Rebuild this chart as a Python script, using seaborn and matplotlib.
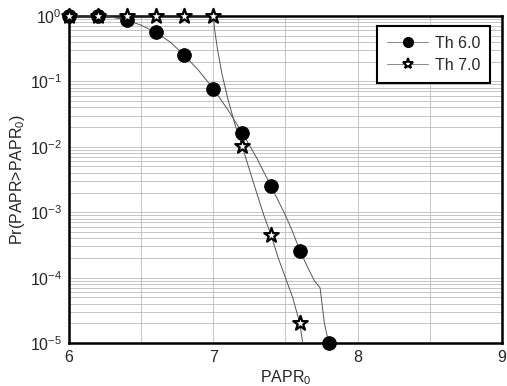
import numpy as np
import pandas as pd
import matplotlib
matplotlib.use("Agg")
import matplotlib.pyplot as plt
import seaborn as sns
from matplotlib.lines import Line2D
from matplotlib.ticker import LogLocator, MultipleLocator, NullFormatter

# marker data
th6_x = [6.0, 6.2, 6.4, 6.6, 6.8, 7.0, 7.2, 7.4, 7.6, 7.8]
th6_y = [1.0, 1.0, 0.85, 0.56, 0.25, 0.077, 0.0165, 0.0025, 0.00026, 1e-5]
th7_x = [6.0, 6.2, 6.4, 6.6, 6.8, 7.0, 7.2, 7.4, 7.6]
th7_y = [1.0, 1.0, 1.0, 1.0, 1.0, 1.0, 0.0102, 0.00045, 2.0e-5]

# curve data (denser)
th6_cx = [6.0, 6.2, 6.3, 6.4, 6.5, 6.6, 6.7, 6.8, 6.9, 7.0, 7.1, 7.2, 7.3, 7.4, 7.5, 7.55, 7.6, 7.65, 7.7, 7.74, 7.77, 7.8]
th6_cy = [1.0, 1.0, 0.95, 0.86, 0.72, 0.56, 0.40, 0.25, 0.145, 0.077, 0.037, 0.0165, 0.0068, 0.0025, 0.0009, 0.0005, 0.00026, 0.00015, 0.00009, 0.00007, 0.00002, 1e-5]
th7_cx = [6.0, 6.2, 6.4, 6.6, 6.8, 7.0, 7.01, 7.03, 7.06, 7.1, 7.15, 7.2, 7.25, 7.3, 7.35, 7.4, 7.45, 7.5, 7.55, 7.6, 7.62]
th7_cy = [1.0, 1.0, 1.0, 1.0, 1.0, 1.0, 0.6, 0.3, 0.13, 0.055, 0.022, 0.0102, 0.0045, 0.002, 0.0009, 0.00045, 0.0002, 0.0001, 0.00005, 2.0e-5, 1e-5]

sns.set_style("white")
plt.rcParams['font.family'] = ['Liberation Sans', 'DejaVu Sans']
plt.rcParams['mathtext.fontset'] = 'custom'
plt.rcParams['mathtext.rm'] = 'Liberation Sans'
plt.rcParams['mathtext.it'] = 'Liberation Sans'

fig = plt.figure(figsize=(5.07, 3.86), dpi=100)
ax = fig.add_axes([0.136, 0.111, 0.854, 0.848])

c6 = pd.DataFrame({"x": th6_cx, "y": th6_cy})
c7 = pd.DataFrame({"x": th7_cx, "y": th7_cy})
m6 = pd.DataFrame({"x": th6_x, "y": th6_y})
m7 = pd.DataFrame({"x": th7_x, "y": th7_y})

sns.lineplot(data=c6, x="x", y="y", ax=ax, color="#555555", lw=0.7, sort=False, zorder=3)
sns.lineplot(data=c7, x="x", y="y", ax=ax, color="#555555", lw=0.7, sort=False, zorder=3)
sns.scatterplot(data=m6, x="x", y="y", ax=ax, marker="o", s=95, color="black", edgecolor="black", zorder=5, clip_on=False)
sns.scatterplot(data=m7, x="x", y="y", ax=ax, marker="*", s=120, facecolor="white", edgecolor="black", linewidth=1.6, zorder=6, clip_on=False)

ax.set_yscale("log")
ax.set_xlim(6, 9)
ax.set_ylim(1e-5, 1)
ax.xaxis.set_major_locator(MultipleLocator(1))
ax.xaxis.set_minor_locator(MultipleLocator(0.5))
ax.yaxis.set_major_locator(LogLocator(base=10, numticks=10))
ax.yaxis.set_minor_locator(LogLocator(base=10, subs=np.arange(2, 10), numticks=20))
ax.yaxis.set_minor_formatter(NullFormatter())
ax.grid(True, which="both", axis="y", color="#bbbbbb", lw=0.6)
ax.grid(True, which="both", axis="x", color="#bbbbbb", lw=0.6)
ax.tick_params(which="major", direction="in", length=6, width=1.5, labelsize=11.5, top=False, right=False, pad=5)
ax.tick_params(which="minor", direction="in", length=3, width=1.2, top=False, right=False)
for s in ax.spines.values():
    s.set_linewidth(1.8)
    s.set_color("black")

ax.set_xlabel("PAPR$_0$", fontsize=11.5, labelpad=2)
ax.set_ylabel("Pr(PAPR>PAPR$_0$)", fontsize=11.5, labelpad=2)

handles = [
    Line2D([], [], color="#888888", lw=0.7, marker="o", markersize=7, markerfacecolor="black", markeredgecolor="black"),
    Line2D([], [], color="#888888", lw=0.7, marker="*", markersize=8, markerfacecolor="white", markeredgecolor="black", markeredgewidth=1.5),
]
leg = ax.legend(handles, ["Th 6.0", "Th 7.0"], loc="upper right", bbox_to_anchor=(0.972, 0.968),
                fontsize=11.5, frameon=True, fancybox=False, edgecolor="black", framealpha=1,
                handlelength=2.6, borderpad=0.6, labelspacing=0.45, handletextpad=0.4, borderaxespad=0)
leg.get_frame().set_linewidth(1.5)

fig.savefig("out.png", dpi=100)
